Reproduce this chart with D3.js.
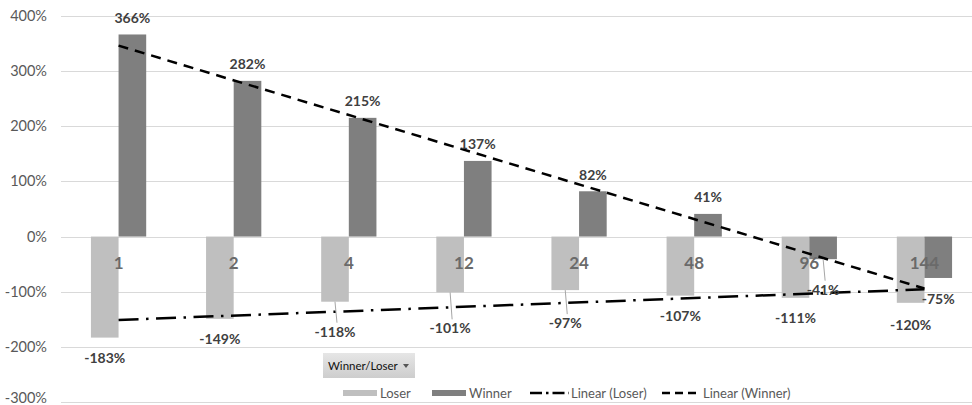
<!DOCTYPE html>
<html>
<head>
<meta charset="utf-8">
<script src="https://cdn.jsdelivr.net/npm/d3@7"></script>
<style>
  html, body { margin: 0; padding: 0; background: #ffffff; }
  svg { display: block; font-family: Lato, "Liberation Sans", Arial, sans-serif; }
</style>
</head>
<body>
<svg id="chart" width="972" height="405"></svg>
<script>
// Holding periods (months) and cumulative returns per portfolio
const periods = ["1", "2", "4", "12", "24", "48", "96", "144"];
const loser  = [-183, -149, -118, -101, -97, -107, -111, -120];
const winner = [366, 282, 215, 137, 82, 41, -41, -75];
const yTicks = [400, 300, 200, 100, 0, -100, -200, -300];

// Nudges (px) for data labels that were pulled away from their bars, with leader lines
const loserLabelNudge  = [0, 0, 10, 16, 13, 0, 0, 2];
const winnerLabelNudge = [0, 0, 0, 0, 0, 0, 14, 4];

const colors = { loser: "#bfbfbf", winner: "#7f7f7f" };

const svg = d3.select("#chart");
const width = 972, height = 405;

const x = d3.scaleBand()
  .domain(periods)
  .range([61, 982])
  .paddingInner(0.52)
  .paddingOuter(0.26);
const xSeries = d3.scaleBand().domain(["loser", "winner"]).range([0, x.bandwidth()]);
const y = d3.scaleLinear().domain([-300, 400]).range([402.2, 15.7]);
const centre = d => x(d) + x.bandwidth() / 2;

// Horizontal gridlines
svg.append("g").selectAll("line").data(yTicks).join("line")
  .attr("x1", 61).attr("x2", width)
  .attr("y1", d => Math.round(y(d)) + 0.5).attr("y2", d => Math.round(y(d)) + 0.5)
  .attr("stroke", "#d9d9d9").attr("stroke-width", 1);

// Value axis labels
const yAxis = d3.axisLeft(y).tickValues(yTicks).tickFormat(d => d + "%").tickSize(0).tickPadding(0);
const yg = svg.append("g").attr("transform", "translate(47,0)").call(yAxis);
yg.select(".domain").remove();
yg.selectAll("text").attr("font-family", "Lato, 'Liberation Sans', sans-serif")
  .attr("font-size", 14.5).attr("fill", "#595959");
// keep the lowest tick label inside the frame
yg.selectAll(".tick").filter(d => d === -300).select("text").attr("dy", "0.05em");

// Bars
const seriesData = [
  { key: "loser", values: loser },
  { key: "winner", values: winner }
];
seriesData.forEach(s => {
  svg.append("g").selectAll("rect").data(s.values).join("rect")
    .attr("x", (v, i) => x(periods[i]) + xSeries(s.key))
    .attr("width", xSeries.bandwidth())
    .attr("y", v => y(Math.max(0, v)))
    .attr("height", v => Math.abs(y(v) - y(0)))
    .attr("fill", colors[s.key]);
});

// Category labels sit just under the zero line
svg.append("g").selectAll("text").data(periods).join("text")
  .attr("x", d => centre(d)).attr("y", y(0) + 32)
  .attr("text-anchor", "middle")
  .attr("font-size", 17).attr("font-weight", 700).attr("fill", "#6a6a6a")
  .text(d => d);

// Linear trendlines (least squares over category index)
function fit(vals) {
  const n = vals.length;
  const xs = vals.map((_, i) => i + 1);
  const mx = d3.mean(xs), my = d3.mean(vals);
  const b = d3.sum(xs, (xi, i) => (xi - mx) * (vals[i] - my)) / d3.sum(xs, xi => (xi - mx) ** 2);
  const a = my - b * mx;
  return [
    [centre(periods[0]), y(a + b * 1)],
    [centre(periods[n - 1]), y(a + b * n)]
  ];
}
const line = d3.line();
svg.append("path").attr("d", line(fit(loser)))
  .attr("stroke", "#000").attr("stroke-width", 2.5).attr("fill", "none")
  .attr("stroke-dasharray", "20,7.5,2.5,7.5");
svg.append("path").attr("d", line(fit(winner)))
  .attr("stroke", "#000").attr("stroke-width", 2.5).attr("fill", "none")
  .attr("stroke-dasharray", "10,7");

// Data labels
function labelPos(key, v, i) {
  const cx = x(periods[i]) + xSeries(key) + xSeries.bandwidth() / 2;
  const nudge = key === "loser" ? loserLabelNudge[i] : winnerLabelNudge[i];
  const off = key === "loser" ? 20 : 16.5;
  const cy = v >= 0 ? y(v) - off - nudge : y(v) + off + nudge;
  return { cx, cy, nudge, end: y(v) };
}
seriesData.forEach(s => {
  const g = svg.append("g");
  s.values.forEach((v, i) => {
    const p = labelPos(s.key, v, i);
    if (p.nudge > 6) {
      g.append("line")
        .attr("x1", p.cx).attr("x2", p.cx + 2)
        .attr("y1", p.end).attr("y2", p.cy - 9)
        .attr("stroke", "#a6a6a6").attr("stroke-width", 1);
    }
    g.append("text")
      .attr("x", p.cx).attr("y", p.cy)
      .attr("dy", "0.36em")
      .attr("text-anchor", "middle")
      .attr("font-size", 14).attr("font-weight", 700).attr("fill", "#404040")
      .text(v + "%");
  });
});

// Field filter button
const btn = svg.append("g").attr("transform", "translate(323,353)");
const grad = svg.append("defs").append("linearGradient")
  .attr("id", "btnGrad").attr("x1", 0).attr("x2", 0).attr("y1", 0).attr("y2", 1);
grad.append("stop").attr("offset", "0%").attr("stop-color", "#e6e6e6");
grad.append("stop").attr("offset", "100%").attr("stop-color", "#cdcdcd");
btn.append("rect").attr("width", 92).attr("height", 25).attr("fill", "url(#btnGrad)");
btn.append("text").attr("x", 5).attr("y", 13).attr("dy", "0.35em")
  .attr("font-family", "Lato, sans-serif")
  .attr("font-size", 11.5).attr("fill", "#111").text("Winner/Loser");
btn.append("path").attr("d", "M80,11 L86,11 L83,15 Z").attr("fill", "#555");

// Legend
const legendItems = [
  { label: "Loser", type: "rect", color: colors.loser, x: 343 },
  { label: "Winner", type: "rect", color: colors.winner, x: 432 },
  { label: "Linear (Loser)", type: "line", dash: "12,4,2.5,4", x: 530 },
  { label: "Linear (Winner)", type: "line", dash: "8,5", x: 662 }
];
const lg = svg.append("g").attr("transform", "translate(0,393)");
legendItems.forEach(it => {
  const g = lg.append("g").attr("transform", `translate(${it.x},0)`);
  if (it.type === "rect") {
    g.append("rect").attr("x", 0).attr("y", -3).attr("width", 34).attr("height", 6).attr("fill", it.color);
  } else {
    g.append("line").attr("x1", 0).attr("x2", 39).attr("y1", 0).attr("y2", 0)
      .attr("stroke", "#000").attr("stroke-width", 2.5).attr("stroke-dasharray", it.dash);
  }
  g.append("text").attr("x", it.type === "rect" ? 37 : 41).attr("y", 0).attr("dy", "0.36em")
    .attr("font-family", "Lato, sans-serif")
    .attr("font-size", 13).attr("fill", "#595959").text(it.label);
});
</script>
</body>
</html>
